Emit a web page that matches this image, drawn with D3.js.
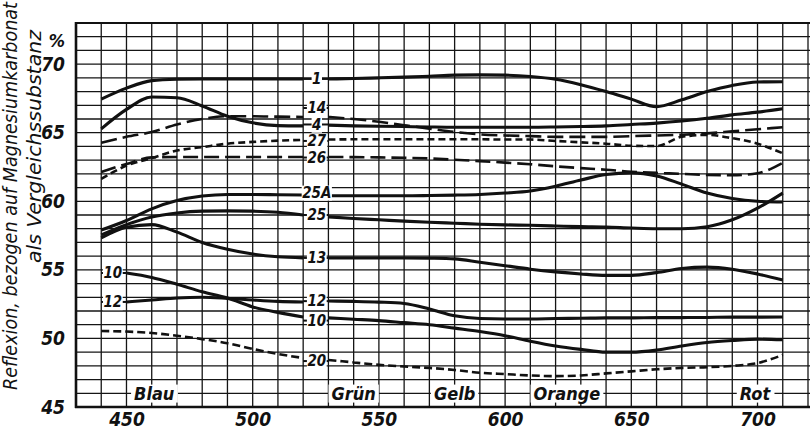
<!DOCTYPE html>
<html>
<head>
<meta charset="utf-8">
<script src="https://cdn.jsdelivr.net/npm/d3@7"></script>
<style>
  body { margin: 0; background: #fff; }
  svg text { font-family: "Liberation Sans Narrow", "DejaVu Sans Condensed", "Liberation Sans", sans-serif; font-style: italic; font-weight: bold; fill: #111; }
</style>
</head>
<body>
<svg id="chart" width="810" height="435"></svg>
<script>

// DATA
// wavelengths in nm, left block / right block (label column sits between 520 and 530)
var lambdaLeft = [440, 450, 460, 470, 480, 490, 500, 510, 520];
var lambdaRight = [530, 540, 550, 560, 570, 580, 590, 600, 610, 620, 630, 640, 650, 660, 670, 680, 690, 700, 710];

// Reflexion in %, left values then right values
var r1   = [67.45, 68.25, 68.8, 68.9, 68.92, 68.92, 68.92, 68.92, 68.92,
            68.92, 68.95, 69.0, 69.05, 69.12, 69.2, 69.22, 69.2, 69.1, 68.9, 68.5, 68.0, 67.45, 66.9, 67.4, 68.0, 68.45, 68.7, 68.72];
var r14  = [64.26, 64.7, 65.05, 65.6, 66.0, 66.2, 66.2, 66.17, 66.15,
            66.15, 66.0, 65.8, 65.55, 65.3, 65.05, 64.88, 64.8, 64.75, 64.7, 64.7, 64.7, 64.75, 64.8, 64.85, 64.95, 65.1, 65.25, 65.4];
var r4   = [65.28, 66.7, 67.6, 67.55, 66.95, 66.2, 65.72, 65.52, 65.5,
            65.55, 65.5, 65.47, 65.45, 65.42, 65.4, 65.4, 65.4, 65.4, 65.42, 65.45, 65.5, 65.6, 65.7, 65.85, 66.05, 66.3, 66.5, 66.75];
var r27  = [61.63, 62.6, 63.15, 63.7, 63.95, 64.2, 64.33, 64.42, 64.48,
            64.5, 64.52, 64.52, 64.52, 64.52, 64.52, 64.52, 64.5, 64.5, 64.4, 64.3, 64.2, 64.05, 64.03, 64.7, 64.84, 64.6, 64.2, 63.5];
var r26  = [62.14, 62.72, 63.2, 63.23, 63.23, 63.23, 63.23, 63.23, 63.23,
            63.23, 63.22, 63.2, 63.17, 63.12, 63.03, 62.93, 62.82, 62.7, 62.55, 62.42, 62.3, 62.15, 62.07, 62.0, 61.92, 61.9, 62.05, 62.8];
var r25A = [57.9, 58.6, 59.45, 60.05, 60.38, 60.5, 60.5, 60.48, 60.46,
            60.4, 60.4, 60.4, 60.4, 60.42, 60.45, 60.5, 60.6, 60.75, 61.1, 61.55, 61.95, 62.07, 61.85, 61.25, 60.6, 60.2, 60.0, 59.95];
var r25  = [57.55, 58.3, 58.86, 59.15, 59.28, 59.3, 59.28, 59.2, 59.0,
            58.86, 58.75, 58.65, 58.55, 58.47, 58.4, 58.33, 58.28, 58.25, 58.2, 58.15, 58.12, 58.05, 58.0, 58.0, 58.15, 58.65, 59.5, 60.6];
var r13  = [57.33, 58.1, 58.3, 57.75, 57.0, 56.5, 56.15, 55.95, 55.87,
            55.87, 55.87, 55.87, 55.87, 55.85, 55.8, 55.55, 55.3, 55.05, 54.85, 54.7, 54.6, 54.6, 54.8, 55.1, 55.2, 55.05, 54.7, 54.26];
var r12  = [null, 52.66, 52.8, 52.95, 53.0, 52.92, 52.8, 52.7, 52.66,
            52.73, 52.7, 52.65, 52.55, 52.15, 51.65, 51.45, 51.42, 51.42, 51.45, 51.47, 51.5, 51.5, 51.52, 51.52, 51.53, 51.55, 51.55, 51.56];
var r10  = [null, 54.77, 54.45, 53.95, 53.4, 52.95, 52.3, 51.9, 51.56,
            51.5, 51.4, 51.3, 51.15, 51.0, 50.75, 50.5, 50.2, 49.8, 49.45, 49.2, 49.0, 49.0, 49.15, 49.45, 49.7, 49.85, 49.95, 49.9];
var r20  = [50.54, 50.5, 50.4, 50.2, 49.95, 49.65, 49.23, 48.87, 48.57,
            48.43, 48.25, 48.07, 47.95, 47.85, 47.7, 47.5, 47.4, 47.3, 47.25, 47.3, 47.45, 47.6, 47.75, 47.85, 47.9, 48.0, 48.2, 48.8];

var seriesNames = ["1", "14", "4", "27", "26", "25A", "25", "13", "12", "10", "20"];
var seriesValues = [r1, r14, r4, r27, r26, r25A, r25, r13, r12, r10, r20];

// label column: value level of each label
var labelLevels = [68.92, 66.8, 65.6, 64.4, 63.19, 60.65, 59.0, 55.87, 52.72, 51.3, 48.35];
// labels at the start of the curves 10 and 12
var startLabels = ["10", "12"];
var startLevels = [54.77, 52.66];

var yTicks = [45, 50, 55, 60, 65, 70];
var xTicks = [450, 500, 550, 600, 650, 700];

// colour bands along the bottom
var bandNames = ["Blau", "Grün", "Gelb", "Orange", "Rot"];
var bandCenters = [461, 540, 580, 624.5, 699];


// STYLES
var dashes = { "14": "16,6", "26": "15,6", "27": "7,4", "20": "8,4" };


// D3 STUFF
var svg = d3.select("#chart");

var x = d3.scaleLinear().domain([430, 720]).range([76, 808]);
var y = d3.scaleLinear().domain([45, 73]).range([407, 23]);

// grid
var grid = svg.append("g");
grid.selectAll(".vline")
  .data(d3.range(440, 721, 10))
  .enter().append("line")
    .attr("x1", function(d) { return x(d) }).attr("x2", function(d) { return x(d) })
    .attr("y1", y(73)).attr("y2", y(45))
    .style("stroke", "#151515").style("stroke-width", 1.3);
grid.selectAll(".hline")
  .data(d3.range(46, 73, 1))
  .enter().append("line")
    .attr("x1", x(430)).attr("x2", 810)
    .attr("y1", function(d) { return y(d) }).attr("y2", function(d) { return y(d) })
    .style("stroke", "#151515").style("stroke-width", 1.3);

// frame
svg.append("line").attr("x1", x(430)).attr("x2", 810).attr("y1", y(73)).attr("y2", y(73))
  .style("stroke", "#111").style("stroke-width", 2.2);
svg.append("line").attr("x1", x(430) - 1).attr("x2", 810).attr("y1", y(45)).attr("y2", y(45))
  .style("stroke", "#111").style("stroke-width", 2.6);
svg.append("line").attr("x1", x(430)).attr("x2", x(430)).attr("y1", y(73) - 1).attr("y2", y(45) + 1)
  .style("stroke", "#111").style("stroke-width", 2.6);

// curves
var line = d3.line()
  .x(function(d) { return x(d[0]) })
  .y(function(d) { return y(d[1]) })
  .curve(d3.curveMonotoneX);

var curves = svg.append("g");
seriesNames.forEach(function(name, i) {
  var vals = seriesValues[i];
  var left = lambdaLeft.map(function(l, j) { return [l, vals[j]] });
  var right = lambdaRight.map(function(l, j) { return [l, vals[j + lambdaLeft.length]] });
  [left, right].forEach(function(part) {
    curves.append("path")
      .attr("d", line(part.filter(function(d) { return d[1] != null })))
      .style("fill", "none")
      .style("stroke", "#111")
      .style("stroke-width", dashes[name] ? 2.6 : 3.1)
      .style("stroke-dasharray", dashes[name] || null);
  });
});

// helper: text with white box behind it
function boxedLabel(g, txt, cx, cy, size, pad) {
  var t = g.append("text")
    .attr("x", cx).attr("y", cy)
    .attr("dy", "0.35em")
    .attr("text-anchor", "middle")
    .style("font-size", size + "px")
    .text(txt);
  var b = t.node().getBBox();
  g.insert("rect", function() { return t.node() })
    .attr("x", b.x - pad).attr("y", b.y + 2)
    .attr("width", b.width + 2 * pad).attr("height", b.height - 3)
    .style("fill", "#fff");
}

// labels in the middle column, with little stubs
var labels = svg.append("g");
seriesNames.forEach(function(name, i) {
  labels.append("line")
    .attr("x1", x(520)).attr("x2", x(530))
    .attr("y1", y(labelLevels[i])).attr("y2", y(labelLevels[i]))
    .style("stroke", "#111").style("stroke-width", 2);
});
seriesNames.forEach(function(name, i) {
  boxedLabel(labels, name, x(525) + 1, y(labelLevels[i]), 15, 0.5);
});
startLabels.forEach(function(name, i) {
  labels.append("line")
    .attr("x1", x(440)).attr("x2", x(450))
    .attr("y1", y(startLevels[i])).attr("y2", y(startLevels[i]))
    .style("stroke", "#111").style("stroke-width", 2);
  boxedLabel(labels, name, x(444.6), y(startLevels[i]), 15, 0.5);
});

// colour bands
bandNames.forEach(function(name, i) {
  boxedLabel(labels, name, x(bandCenters[i]), y(46), 18, 3);
});

// axes
var yAxis = svg.append("g")
  .attr("transform", "translate(" + x(430) + ",0)")
  .call(d3.axisLeft(y).tickValues(yTicks).tickSize(0).tickPadding(11));
yAxis.select(".domain").remove();
yAxis.selectAll("text").style("font-size", "19px").style("font-family", null).attr("fill", null);

var xAxis = svg.append("g")
  .attr("transform", "translate(0," + y(45) + ")")
  .call(d3.axisBottom(x).tickValues(xTicks).tickSize(0).tickPadding(6));
xAxis.select(".domain").remove();
xAxis.selectAll("text").style("font-size", "19px").style("font-family", null).attr("fill", null);

svg.append("text")
  .attr("x", 65).attr("y", 41).attr("dy", "0.35em")
  .attr("text-anchor", "end")
  .style("font-size", "18px")
  .text("%");

// y axis title, two rotated lines
svg.append("text")
  .attr("transform", "translate(17,390) rotate(-90)")
  .attr("textLength", 388).attr("lengthAdjust", "spacingAndGlyphs")
  .style("font-size", "19px").style("font-weight", "normal")
  .text("Reflexion, bezogen auf Magnesiumkarbonat");
svg.append("text")
  .attr("transform", "translate(41,263) rotate(-90)")
  .attr("textLength", 233).attr("lengthAdjust", "spacingAndGlyphs")
  .style("font-size", "19px").style("font-weight", "normal")
  .text("als Vergleichssubstanz");

</script>
</body>
</html>
